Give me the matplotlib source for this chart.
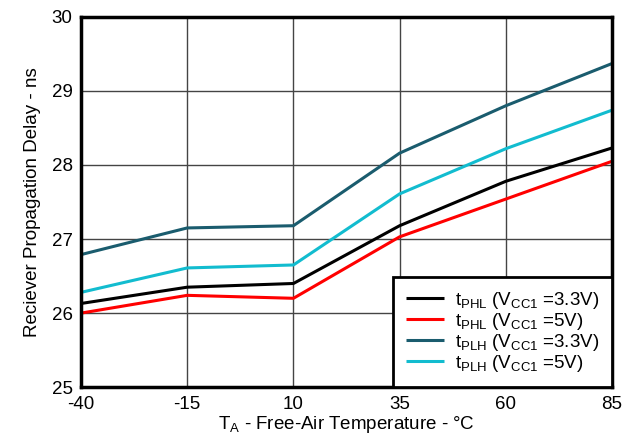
import matplotlib
matplotlib.use("Agg")
import matplotlib.pyplot as plt

plt.rcParams['font.family'] = ['Liberation Sans', 'DejaVu Sans']
plt.rcParams['mathtext.fontset'] = 'custom'
plt.rcParams['mathtext.rm'] = 'Liberation Sans'
plt.rcParams['mathtext.it'] = 'Liberation Sans'
plt.rcParams['mathtext.default'] = 'regular'
plt.rcParams['axes.unicode_minus'] = False

# temperature points (deg C)
temps = [-40, -15, 10, 35, 60, 85]

# propagation delays (ns)
tphl_33 = [26.13, 26.35, 26.40, 27.18, 27.78, 28.23]
tphl_5 = [26.00, 26.24, 26.20, 27.03, 27.54, 28.05]
tplh_33 = [26.79, 27.15, 27.18, 28.16, 28.80, 29.37]
tplh_5 = [26.28, 26.61, 26.65, 27.61, 28.22, 28.74]

labels = [r'$t_{PHL}$ (V$_{CC1}$ =3.3V)',
          r'$t_{PHL}$ (V$_{CC1}$ =5V)',
          r'$t_{PLH}$ (V$_{CC1}$ =3.3V)',
          r'$t_{PLH}$ (V$_{CC1}$ =5V)']
colors = ['#000000', '#ff0000', '#1a5c6e', '#12bccf']

fig = plt.figure(figsize=(6.41, 4.44), dpi=100)
ax = fig.add_axes([0.1264, 0.128, 0.8284, 0.834])

for ys, lab, c in zip([tphl_33, tphl_5, tplh_33, tplh_5], labels, colors):
    ax.plot(temps, ys, color=c, lw=2.2, label=lab, solid_capstyle='butt')

ax.set_xlim(-40, 85)
ax.set_ylim(25, 30)
ax.set_xticks(temps)
ax.set_yticks([25, 26, 27, 28, 29, 30])
ax.grid(True, color='#444444', lw=1)
ax.tick_params(labelsize=13.5, length=0, pad=6)
for s in ax.spines.values():
    s.set_linewidth(2.5)
    s.set_color('black')

ax.set_xlabel(r'T$_A$ - Free-Air Temperature - °C', fontsize=13.5, labelpad=1)
ax.set_ylabel('Reciever Propagation Delay - ns', fontsize=13.5, labelpad=8)

leg = ax.legend(loc='lower right', fontsize=13.5, fancybox=False, framealpha=1,
                borderaxespad=0, handlelength=2.0, labelspacing=0.0,
                borderpad=0.7, handletextpad=0.6)
leg.get_frame().set_edgecolor('black')
leg.get_frame().set_linewidth(2)

fig.savefig('out.png', dpi=100)
